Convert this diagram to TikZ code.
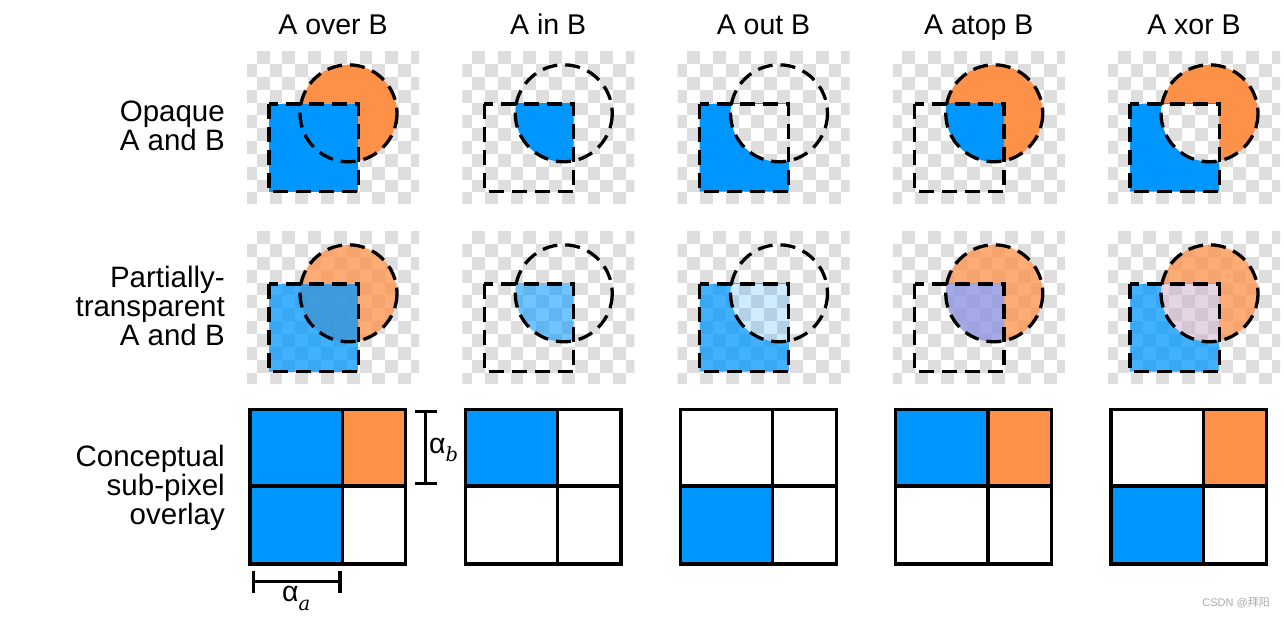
\documentclass[tikz,border=0pt]{standalone}
\usepackage{fontspec}
\setmainfont{Liberation Sans}
\newfontfamily\cjkfont{Noto Sans CJK SC}
\newfontfamily\subfont{DejaVu Serif}
\usetikzlibrary{arrows.meta}
\definecolor{cblue}{RGB}{0,150,255}
\definecolor{corange}{RGB}{253,145,72}
\definecolor{cgray}{RGB}{222,222,222}
\definecolor{clav}{RGB}{142,149,224}
\definecolor{cpink}{RGB}{205,171,201}
\definecolor{cmark}{RGB}{170,170,170}
\newcommand\pathC{(348.5,113.3) circle[radius=48.5]}
\newcommand\pathS{(269,104) rectangle (358.3,191.7)}
\newcommand\checker{%
  \begin{scope}
    \clip (247,52) rectangle (419,203.3);
    \foreach \j in {0,...,12}{
      \foreach \i in {0,...,7}{
        \fill[cgray] ({243.85+(2*\i+mod(\j+1,2))*12.85},{51.15+\j*12.85}) rectangle ++(12.85,12.85);
      }
    }
  \end{scope}}
\newcommand\panel[3]{%
  \begin{scope}[shift={(#1*215.25,#2*180)}]
    \checker
    #3
    \draw[dashln] \pathC;
    \draw[dashln] \pathS;
  \end{scope}}
\newcommand\inter[1]{\begin{scope}\clip \pathS; \fill[#1] \pathC; \end{scope}}
\newcommand\cminus[1]{\begin{scope}\clip \pathC; \fill[#1,even odd rule] \pathC \pathS; \end{scope}}
\newcommand\sminus[1]{\begin{scope}\clip \pathS; \fill[#1,even odd rule] \pathS \pathC; \end{scope}}
\newcommand\gridpanel[5]{%
  \begin{scope}[shift={(#1*215.25,0)}]
    \fill[#2] (250,409.3) rectangle (342.3,486);
    \fill[#3] (342.3,409.3) rectangle (405.7,486);
    \fill[#4] (250,486) rectangle (342.3,564);
    \fill[#5] (342.3,486) rectangle (405.7,564);
    \draw[gridln] (250,409.3) rectangle (405.7,564);
    \draw[gridln] (342.3,409.3) -- (342.3,564);
    \draw[gridln] (250,486) -- (405.7,486);
  \end{scope}}
\newcommand\subsc[1]{\raisebox{-8.4pt}{\fontsize{19.5}{20}\selectfont\subfont\itshape #1}}
\begin{document}
\begin{tikzpicture}[x=1pt,y=-1pt,
  dashln/.style={black,line width=3.3pt,dash pattern=on 15pt off 8pt},
  gridln/.style={black,line width=3.3pt},
  barln/.style={black,line width=3.3pt,{Bar[width=22pt]}-{Bar[width=22pt]}},
  head/.style={font=\fontsize{28.5}{30}\selectfont,inner sep=0pt},
  lbl/.style={font=\fontsize{29.5}{30}\selectfont,inner sep=0pt},
  wmark/.style={font=\fontsize{11}{13}\selectfont,text=cmark,inner sep=0pt}]
\useasboundingbox[fill=white] (0,0) rectangle (1284,617);
% headers
\node[head,anchor=base] (h1) at (333,35) {A over B};
\node[head,anchor=base] (h2) at (548.25,35) {A in B};
\node[head,anchor=base] (h3) at (763.5,35) {A out B};
\node[head,anchor=base] (h4) at (978.75,35) {A atop B};
\node[head,anchor=base] (h5) at (1194,35) {A xor B};
% row labels
\node[lbl,anchor=base east] (r1a) at (225,121.7) {Opaque};
\node[lbl,anchor=base east] (r1b) at (225,150.7) {A and B};
\node[lbl,anchor=base east] (r2a) at (225,288) {Partially-};
\node[lbl,anchor=base east] (r2b) at (225,316.5) {transparent};
\node[lbl,anchor=base east] (r2c) at (225,345) {A and B};
\node[lbl,anchor=base east] (r3a) at (225,466) {Conceptual};
\node[lbl,anchor=base east] (r3b) at (225,495) {sub-pixel};
\node[lbl,anchor=base east] (r3c) at (225,524) {overlay};
% row 1: opaque
\panel{0}{0}{\fill[corange] \pathC; \fill[cblue] \pathS;}
\panel{1}{0}{\inter{cblue}}
\panel{2}{0}{\sminus{cblue}}
\panel{3}{0}{\cminus{corange}\inter{cblue}}
\panel{4}{0}{\cminus{corange}\sminus{cblue}}
% row 2: partially transparent
\panel{0}{1}{\fill[corange,opacity=0.75] \pathC; \fill[cblue,opacity=0.75] \pathS;}
\panel{1}{1}{\inter{cblue,opacity=0.56}}
\panel{2}{1}{\sminus{cblue,opacity=0.75}\inter{cblue,opacity=0.19}}
\panel{3}{1}{\cminus{corange,opacity=0.75}\inter{clav,opacity=0.8}}
\panel{4}{1}{\cminus{corange,opacity=0.75}\sminus{cblue,opacity=0.75}\inter{cpink,opacity=0.5}}
% row 3: grids
\gridpanel{0}{cblue}{corange}{cblue}{white}
\gridpanel{1}{cblue}{white}{white}{white}
\gridpanel{2}{white}{white}{cblue}{white}
\gridpanel{3}{cblue}{corange}{white}{white}
\gridpanel{4}{white}{corange}{cblue}{white}
% alpha bars
\coordinate (bt) at (425.7,410);
\coordinate (bb) at (425.7,485);
\draw[barln] (bt) -- (bb);
\coordinate (al) at (251.7,581.7);
\coordinate (ar) at (341.7,581.7);
\draw[barln] (al) -- (ar);
\node[head,anchor=base west] (ab) at (429,453.3) {α\subsc{b}};
\node[head,anchor=base west] (aa) at (282,601.7) {α\subsc{a}};
% watermark
\node[wmark,anchor=base east] (wm) at (1270,606) {CSDN @{\cjkfont 拜阳}};
\end{tikzpicture}
\end{document}
